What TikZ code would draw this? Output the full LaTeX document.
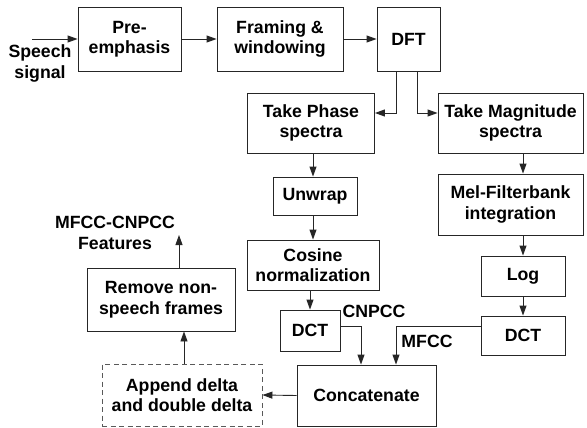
\documentclass[tikz,border=0pt]{standalone}
\usepackage{fontspec}
\setmainfont{Liberation Sans}
\usetikzlibrary{arrows.meta}
\tikzset{
  box/.style={draw=black!85, line width=0.9pt, inner sep=0pt, align=center,
    font=\fontsize{17.7}{20.5}\selectfont\bfseries},
  dbox/.style={box, draw=black!65, dash pattern=on 5pt off 3.5pt},
  lbl/.style={inner sep=0pt, align=center, font=\fontsize{17.7}{20.5}\selectfont\bfseries},
  arr/.style={draw=black!85, line width=0.9pt, -{Triangle[length=10pt,width=7pt]}},
  ln/.style={draw=black!85, line width=0.9pt}
}
\begin{document}
\begin{tikzpicture}[x=1pt,y=-1pt]
\useasboundingbox (0,0) rectangle (587,428);
% boxes
\node[box, minimum width=103pt, minimum height=64pt] (pre) at (129.5,39) {Pre-\\emphasis};
\node[box, minimum width=126pt, minimum height=64pt] (fram) at (280,39) {Framing \&\\windowing};
\node[box, minimum width=63pt, minimum height=64pt] (dft) at (408.5,39) {DFT};
\node[box, minimum width=127pt, minimum height=60pt] (phase) at (311,123) {Take Phase\\spectra};
\node[box, minimum width=145pt, minimum height=60pt] (mag) at (510.5,123) {Take Magnitude\\spectra};
\node[box, minimum width=84pt, minimum height=38pt] (unwrap) at (315,196) {Unwrap};
\node[box, minimum width=145pt, minimum height=61pt] (mel) at (510.5,204.5) {Mel-Filterbank\\integration};
\node[box, minimum width=132pt, minimum height=50pt] (cos) at (313,265) {Cosine\\normalization};
\node[box, minimum width=84pt, minimum height=40pt] (log) at (523,276) {Log};
\node[box, minimum width=60pt, minimum height=41pt] (dctL) at (310,330.5) {DCT};
\node[box, minimum width=84pt, minimum height=39pt] (dctR) at (523,335.5) {DCT};
\node[box, minimum width=148pt, minimum height=63pt] (remove) at (161,299.5) {Remove non-\\speech frames};
\node[dbox, minimum width=160pt, minimum height=62pt] (append) at (182,395) {Append delta\\and double delta};
\node[box, minimum width=139pt, minimum height=61pt] (concat) at (366.5,395.5) {Concatenate};
% labels
\node[lbl] (speech) at (40,63.5) {Speech\\signal};
\node[lbl] (feat) at (115,233) {MFCC-CNPCC\\Features};
\node[lbl] (cnpcc) at (374,311) {CNPCC};
\node[lbl] (mfcc) at (427,341) {MFCC};
\coordinate (in) at (32,39);
\coordinate (out) at (179,235);
% connectors
\draw[arr] (in) -- (pre.west);
\draw[arr] (pre.east) -- (fram.west);
\draw[arr] (fram.east) -- (dft.west);
\draw[arr] ([xshift=-12.5pt]dft.south) |- ([yshift=10pt]phase.east);
\draw[arr] ([xshift=8.5pt]dft.south) |- ([yshift=10pt]mag.west);
\draw[arr] (phase.south -| 313,0) -- (unwrap.north -| 313,0);
\draw[arr] (unwrap.south -| 313,0) -- (cos.north -| 313,0);
\draw[arr] (cos.south -| dctL.north) -- (dctL.north);
\draw[arr] (mag.south -| log.north) -- (mel.north -| log.north);
\draw[arr] (mel.south -| log.north) -- (log.north);
\draw[arr] (log.south) -- (dctR.north);
\draw[arr] ([yshift=4.5pt]dctL.east) -| ([xshift=-5.5pt]concat.north);
\draw[arr] ([yshift=9.5pt]dctR.west) -| ([xshift=29.5pt]concat.north);
\draw[arr] (concat.west) -- (append.east);
\draw[arr] ([xshift=2pt]append.north) -- ([xshift=2pt]append.north |- remove.south);
\draw[arr] ([xshift=18pt]remove.north) -- (out);
\end{tikzpicture}
\end{document}
